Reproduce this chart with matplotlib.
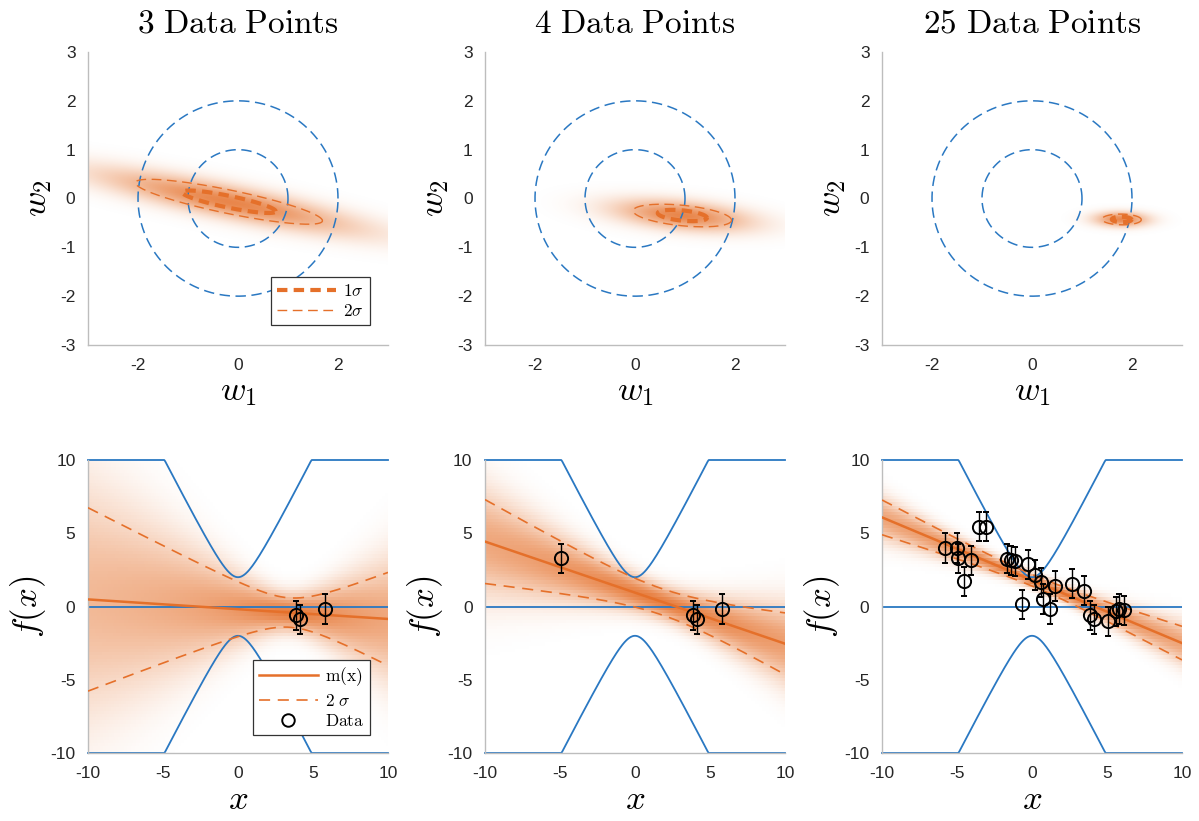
import numpy as np
import matplotlib
matplotlib.use("Agg")
import matplotlib.pyplot as plt
from matplotlib.lines import Line2D
from matplotlib.colors import to_rgb

plt.rcParams['mathtext.fontset'] = 'cm'
plt.rcParams['font.family'] = ['Liberation Sans', 'DejaVu Sans']
plt.rcParams['axes.unicode_minus'] = False
plt.rcParams['lines.scale_dashes'] = False

# Observations (x, y); panels use the first 3, 4 and all 25 points
obs_x = [3.85, 4.15, 5.77, -4.92, -5.78, -4.97, -4.04, -4.54, -3.56, -3.06,
         -1.69, -1.43, -1.11, -0.24, -0.67, 0.20, 0.60, 0.74, 1.22, 1.50,
         2.69, 3.45, 5.04, 5.62, 6.12]
obs_y = [-0.60, -0.88, -0.17, 3.30, 4.00, 4.00, 3.14, 1.73, 5.44, 5.44,
         3.26, 3.16, 3.09, 2.87, 0.14, 2.14, 1.66, 0.52, -0.18, 1.39,
         1.55, 1.09, -1.00, -0.32, -0.27]
panel_counts = [3, 4, 25]
titles = ['3 Data Points', '4 Data Points', '25 Data Points']

noise_sd = 1.0          # observation noise (error bar half-length)
prior_cov = np.eye(2)   # prior over (w1, w2) for f(x) = w1 + w2 x

ORANGE = '#E5702A'
BLUE = '#2A78C2'
GRID_GRAY = '#BDBDBD'

w_ticks = [-3, -2, -1, 0, 1, 2, 3]
w_xticks = [-2, 0, 2]
f_ticks = [-10, -5, 0, 5, 10]


def posterior(n):
    x = np.asarray(obs_x[:n])
    y = np.asarray(obs_y[:n])
    Phi = np.column_stack([np.ones_like(x), x])
    A = np.linalg.inv(prior_cov) + Phi.T @ Phi / noise_sd**2
    S = np.linalg.inv(A)
    m = S @ Phi.T @ y / noise_sd**2
    return m, S


def style_axes(ax):
    for s in ['top', 'right']:
        ax.spines[s].set_visible(False)
    for s in ['left', 'bottom']:
        ax.spines[s].set_color(GRID_GRAY)
        ax.spines[s].set_linewidth(1.0)
    ax.tick_params(length=0, labelsize=12.5, pad=9, colors='#262626')


def make_legend(ax, handles, labels, anchor):
    leg = ax.legend(handles, labels, loc='lower right', bbox_to_anchor=anchor,
                    borderaxespad=0, fontsize=12.5, handlelength=3.4,
                    fancybox=False, framealpha=1, edgecolor='#333333',
                    borderpad=0.35, labelspacing=0.25, handletextpad=0.4)
    leg.get_frame().set_linewidth(0.9)
    return leg


fig = plt.figure(figsize=(11.99, 8.21), dpi=100)
lefts = [88 / 1199, 485 / 1199, 882 / 1199]
width = 300 / 1199
height = 293 / 821
top_bottom = 1 - 345 / 821
bot_bottom = 1 - 753 / 821

orange_rgb = np.array(to_rgb(ORANGE))
t = np.linspace(0, 2 * np.pi, 400)

for i, n in enumerate(panel_counts):
    m, S = posterior(n)
    L = np.linalg.cholesky(S)

    # ---- weight space ----
    ax = fig.add_axes([lefts[i], top_bottom, width, height])
    g = np.linspace(-3, 3, 240)
    W1, W2 = np.meshgrid(g, np.linspace(-3, 3, 120))
    d = np.stack([W1 - m[0], W2 - m[1]], axis=-1)
    Si = np.linalg.inv(S)
    maha = np.einsum('...i,ij,...j->...', d, Si, d)
    dens = np.exp(-0.5 * maha)
    img = np.zeros(W1.shape + (4,))
    img[..., :3] = orange_rgb
    img[..., 3] = 0.85 * dens ** 0.28
    ax.imshow(img, extent=[-3, 3, -3, 3], origin='lower', aspect='auto',
              interpolation='bilinear', zorder=1)

    for r in [1, 2]:
        ax.plot(r * np.cos(t), r * np.sin(t), color=BLUE, lw=1.1,
                dashes=(7.5, 4.0), zorder=2)
    circ = np.stack([np.cos(t), np.sin(t)])
    e1 = m[:, None] + 1 * L @ circ
    e2 = m[:, None] + 2 * L @ circ
    h1, = ax.plot(e1[0], e1[1], color=ORANGE, lw=3.0, dashes=(7.5, 4.5), zorder=3)
    h2, = ax.plot(e2[0], e2[1], color=ORANGE, lw=1.0, dashes=(7.0, 4.0), zorder=3)

    ax.set_xlim(-3, 3)
    ax.set_ylim(-3, 3)
    ax.set_xticks(w_xticks)
    ax.set_yticks(w_ticks)
    style_axes(ax)
    ax.set_xlabel(r'$w_1$', fontsize=25, labelpad=2)
    ax.set_ylabel(r'$w_2$', fontsize=25, labelpad=4)
    ax.set_title(r'$\mathrm{%s}$' % titles[i].replace(' ', r'\ '),
                 fontsize=24, pad=14)
    if i == 0:
        make_legend(ax, [h1, h2], [r'$1\sigma$', r'$2\sigma$'], (0.94, 0.068))

    # ---- function space ----
    ax = fig.add_axes([lefts[i], bot_bottom, width, height])
    xs = np.linspace(-10, 10, 300)
    ys = np.linspace(-10, 10, 90)
    mean = m[0] + m[1] * xs
    var = S[0, 0] + 2 * S[0, 1] * xs + S[1, 1] * xs**2
    sd = np.sqrt(var)
    X, Y = np.meshgrid(xs, ys)
    pdf = np.exp(-0.5 * ((Y - mean) / sd) ** 2) / sd
    pdf = pdf / pdf.max()
    img = np.zeros(X.shape + (4,))
    img[..., :3] = orange_rgb
    img[..., 3] = 0.9 * pdf ** 0.33
    ax.imshow(img, extent=[-10, 10, -10, 10], origin='lower', aspect='auto',
              interpolation='nearest', zorder=1)

    band = np.minimum(2 * np.sqrt(1 + xs**2), 10)
    ax.plot(xs, band, color=BLUE, lw=1.3, zorder=2, clip_on=False)
    ax.plot(xs, -band, color=BLUE, lw=1.3, zorder=2, clip_on=False)
    ax.plot(xs, np.zeros_like(xs), color=BLUE, lw=1.3, zorder=2)

    hm, = ax.plot(xs, mean, color=ORANGE, lw=1.8, zorder=3)
    hs, = ax.plot(xs, mean + 2 * sd, color=ORANGE, lw=1.2, dashes=(8.0, 5.5), zorder=3)
    ax.plot(xs, mean - 2 * sd, color=ORANGE, lw=1.2, dashes=(8.0, 5.5), zorder=3)

    ax.errorbar(obs_x[:n], obs_y[:n], yerr=noise_sd, fmt='o', ms=9.5,
                mfc='none', mec='black', mew=1.4, ecolor='black',
                elinewidth=1.0, capsize=2.2, capthick=1.0, zorder=4)

    ax.set_xlim(-10, 10)
    ax.set_ylim(-10, 10)
    ax.set_xticks(f_ticks)
    ax.set_yticks(f_ticks)
    style_axes(ax)
    ax.set_xlabel(r'$x$', fontsize=25, labelpad=2)
    ax.set_ylabel(r'$f(x)$', fontsize=25, labelpad=2)
    if i == 0:
        hd = Line2D([], [], ls='none', marker='o', ms=9, mfc='none',
                    mec='black', mew=1.4)
        make_legend(ax, [hm, hs, hd],
                    [r'$\mathrm{m(x)}$', r'$2\ \sigma$', r'$\mathrm{Data}$'],
                    (0.94, 0.061))

fig.savefig('out.png', dpi=100)
